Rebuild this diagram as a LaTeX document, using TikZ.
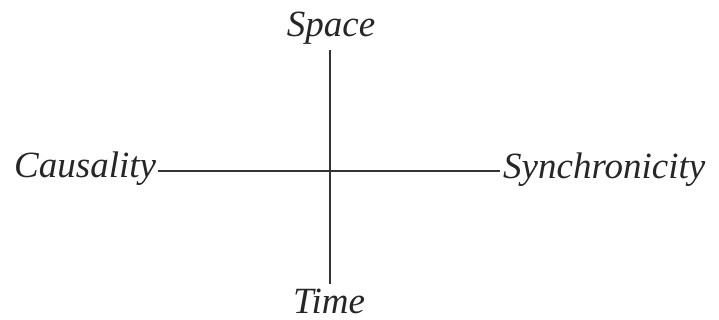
\documentclass[tikz,border=0pt]{standalone}
\usepackage{fontspec}
\setmainfont{Liberation Serif}
\begin{document}
\begin{tikzpicture}[x=1pt,y=-1pt,
  lbl/.style={inner sep=0pt,font=\fontsize{37}{40}\selectfont\itshape,text=black!85},
  axis/.style={line width=1.8pt,draw=black!80}]
\useasboundingbox (0,0) rectangle (719,320);
\node[lbl,anchor=base west] (cau) at (14,178) {Causality};
\node[lbl,anchor=base west] (syn) at (503,179) {Synchronicity};
\node[lbl,anchor=base] (spa) at (331,37) {Space};
\node[lbl,anchor=base] (tim) at (329,313) {Time};
\coordinate (hl) at (158,171);
\coordinate (hr) at (500,171);
\coordinate (vt) at (330,50);
\coordinate (vb) at (330,284);
\draw[axis] (hl) -- (hr);
\draw[axis] (vt) -- (vb);
\end{tikzpicture}
\end{document}
